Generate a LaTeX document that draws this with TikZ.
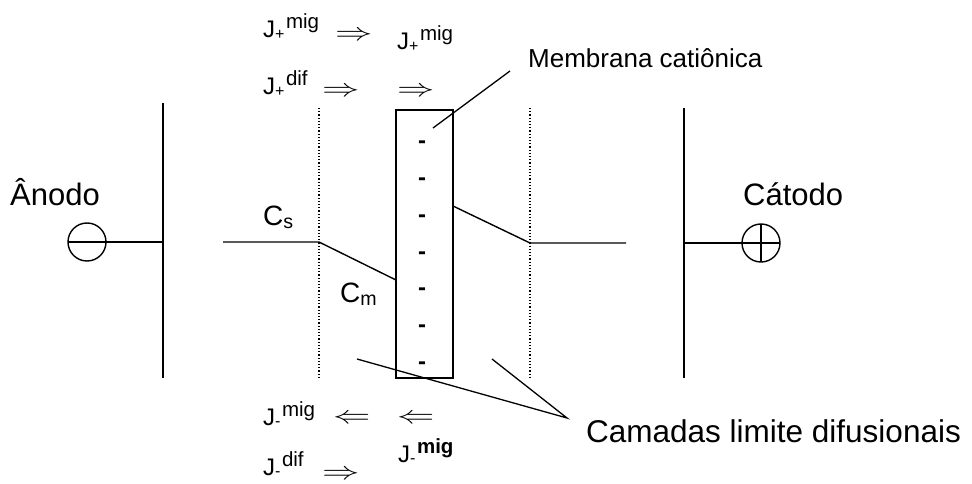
\documentclass[tikz,border=0pt]{standalone}
\usepackage{fontspec}
\setmainfont{Liberation Sans}
\usepackage{amsmath}
\usepackage{graphicx}

% flux symbol: J, sign below, superscript after it
\newcommand\fluxJ[2]{J{\fontsize{16}{16}\selectfont\raisebox{-1.5pt}{#1}}\hspace{1.5pt}\raisebox{9pt}{\fontsize{20.5}{20}\selectfont #2}}
% wide double arrows
\newcommand\fluxR{\scalebox{1.5}[1]{$\Rightarrow$}}
\newcommand\fluxL{\scalebox{1.5}[1]{$\Leftarrow$}}

\begin{document}
\begin{tikzpicture}[
    x=1pt, y=-1pt,
    every node/.style={inner sep=0pt, anchor=base west},
    elecname/.style={font=\fontsize{31}{36}\selectfont},
    conc/.style={font=\fontsize{28}{32}\selectfont},
    fluxlbl/.style={font=\fontsize{24}{26}\selectfont},
    fluxarr/.style={font=\fontsize{34}{36}\selectfont},
    note/.style={font=\fontsize{26}{30}\selectfont},
    bignote/.style={font=\fontsize{31.5}{36}\selectfont},
    charge/.style={font=\fontsize{24}{28}\selectfont\bfseries, anchor=base},
    elec/.style={line width=2.4pt},
    memb/.style={line width=1.8pt},
    profile/.style={line width=1.4pt},
    limit/.style={line width=1.2pt, dotted},
    leader/.style={line width=1.3pt}
]
\useasboundingbox (0,0) rectangle (972,484);

% Electrodes
\draw[elec] (163,103) -- (163,378);
\draw[elec] (684,108) -- (684,378);
\coordinate (an) at (87,242);
\coordinate (ca) at (761,243);
\draw[profile] (an) circle (19);
\draw[profile] (68,242) -- (163,242);
\draw[profile] (ca) circle (19);
\draw[profile] (684,243) -- (780,243);
\draw[profile] (761,224) -- (761,262);
\node[elecname] (anodo) at (10,205) {Ânodo};
\node[elecname] (catodo) at (743,205) {Cátodo};

% Diffusion boundary layers
\draw[limit] (319,108) -- (319,378);
\draw[limit] (530,108) -- (530,378);

% Cation membrane
\draw[memb] (396,110) rectangle (453,378);
\foreach \k in {0,...,6}
    \node[charge] at (422,149+36.7*\k) {-};

% Concentration profile
\draw[profile] (223,242) -- (319,242) -- (396,280);
\draw[profile] (453,206) -- (530,243) -- (626,243);
\node[conc] (cs) at (263,225) {C$_{\text{s}}$};
\node[conc] (cm) at (340,302) {C$_{\text{m}}$};

% Fluxes
\node[fluxlbl] (jpm) at (263,38) {\fluxJ{+}{mig}};
\node[fluxarr] (apm) at (335,40.5) {\fluxR};
\node[fluxlbl] (jpm2) at (397,50) {\fluxJ{+}{mig}};
\node[fluxlbl] (jpd) at (263,95) {\fluxJ{+}{dif}};
\node[fluxarr] (apd) at (322,96.5) {\fluxR};
\node[fluxarr] (apd2) at (397,96.5) {\fluxR};
\node[fluxlbl] (jmm) at (263,425) {\fluxJ{-}{mig}};
\node[fluxarr] (amm) at (333,423.5) {\fluxL};
\node[fluxarr] (amm2) at (397,423.5) {\fluxL};
\node[fluxlbl] (jmm2) at (398,462) {\fluxJ{-}{\bfseries mig}};
\node[fluxlbl] (jmd) at (263,475) {\fluxJ{-}{dif}};
\node[fluxarr] (amd) at (322,479.5) {\fluxR};

% Labels
\node[note] (mem) at (528,68) {Membrana catiônica};
\coordinate (memtip) at (433,128);
\draw[leader] (memtip) -- (510,71);
\node[bignote] (cam) at (586,442) {Camadas limite difusionais};
\coordinate (camtip) at (567,418);
\draw[leader] (357,359) -- (camtip) -- (492,359);

\end{tikzpicture}
\end{document}
